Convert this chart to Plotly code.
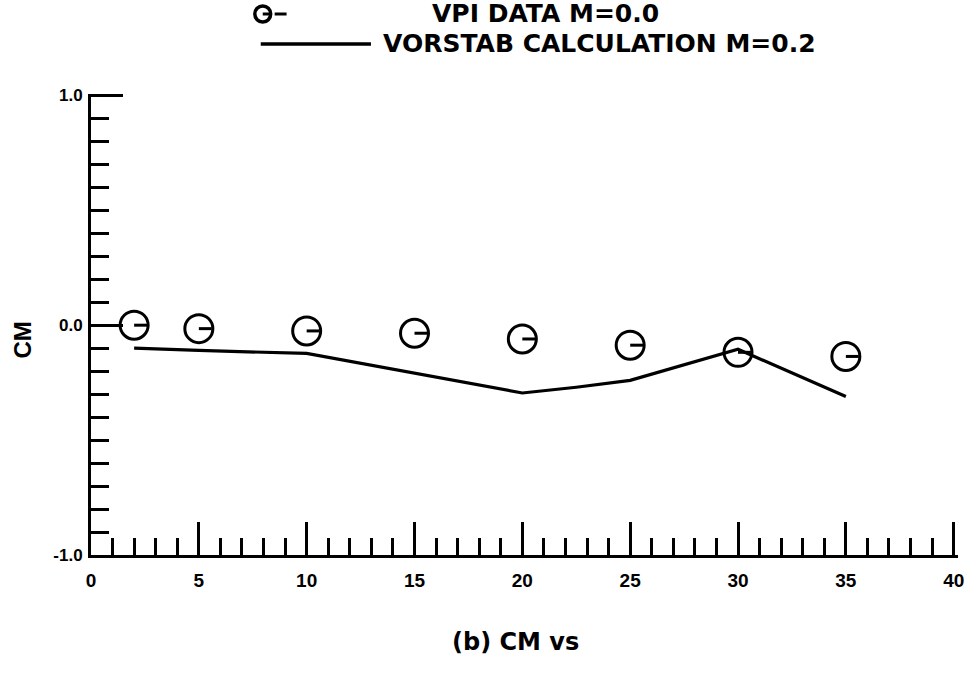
import plotly.graph_objects as go

# Angle of attack (deg) and pitching-moment coefficient
alpha_vpi = [2, 5, 10, 15, 20, 25, 30, 35]
cm_vpi = [0.0, -0.015, -0.025, -0.035, -0.06, -0.087, -0.118, -0.136]

alpha_vorstab = [2, 5, 10, 15, 20, 22.5, 25, 30, 35]
cm_vorstab = [-0.10, -0.11, -0.123, -0.208, -0.295, -0.27, -0.24, -0.105, -0.31]

x_ticks = [0, 5, 10, 15, 20, 25, 30, 35, 40]
x_minor_ticks = [v for v in range(0, 41) if v % 5]
y_ticks = [-1.0, 0.0, 1.0]
y_tick_text = ["-1.0", "0.0", "1.0"]
y_minor_ticks = [k / 10 for k in range(-9, 10) if k != 0]

W, H = 975, 674
x_range = [0, 40.2]
y_range = [-1, 1.006]
L, T, B = 91, 94, 119
px_per_unit = 869 / 40
plot_w = px_per_unit * (x_range[1] - x_range[0])
R = W - L - plot_w
plot_h = H - T - B


def paper_x(px):
    return (px - L) / plot_w


def paper_y(py):
    return (H - B - py) / plot_h


marker_size = 28
half_bar = (marker_size / 2 - 1) / px_per_unit

fig = go.Figure()

# VORSTAB calculation line
fig.add_trace(go.Scatter(
    x=alpha_vorstab, y=cm_vorstab, mode="lines",
    line=dict(color="black", width=3.2),
    showlegend=False, hoverinfo="skip",
))

# VPI data: open circles with a bar from centre to the right edge
bar_x, bar_y = [], []
for a, c in zip(alpha_vpi, cm_vpi):
    bar_x += [a, a + half_bar, None]
    bar_y += [c, c, None]
fig.add_trace(go.Scatter(
    x=bar_x, y=bar_y, mode="lines",
    line=dict(color="black", width=3),
    showlegend=False, hoverinfo="skip",
))
fig.add_trace(go.Scatter(
    x=alpha_vpi, y=cm_vpi, mode="markers",
    marker=dict(symbol="circle-open", size=marker_size, color="black",
                line=dict(color="black", width=3)),
    showlegend=False,
))

label_font = dict(family="DejaVu Sans", size=25, color="black", weight="bold")

# Legend keys and labels
row1, row2 = 14, 44
shapes = [
    dict(type="circle", xref="paper", yref="paper",
         x0=paper_x(256), x1=paper_x(272), y0=paper_y(row1 - 8), y1=paper_y(row1 + 8),
         line=dict(color="black", width=3.5)),
    dict(type="line", xref="paper", yref="paper",
         x0=paper_x(264), x1=paper_x(272), y0=paper_y(row1), y1=paper_y(row1),
         line=dict(color="black", width=3)),
    dict(type="line", xref="paper", yref="paper",
         x0=paper_x(276), x1=paper_x(288), y0=paper_y(row1), y1=paper_y(row1),
         line=dict(color="black", width=3)),
    dict(type="line", xref="paper", yref="paper",
         x0=paper_x(262), x1=paper_x(373), y0=paper_y(row2), y1=paper_y(row2),
         line=dict(color="black", width=3.5)),
]

annotations = [
    dict(text="VPI DATA M=0.0", xref="paper", yref="paper",
         x=paper_x(432), y=paper_y(row1), xanchor="left", yanchor="middle",
         showarrow=False, font=label_font),
    dict(text="VORSTAB CALCULATION M=0.2", xref="paper", yref="paper",
         x=paper_x(383), y=paper_y(row2), xanchor="left", yanchor="middle",
         showarrow=False, font=label_font),
    dict(text="(b) CM vs", xref="paper", yref="paper",
         x=paper_x(519), y=paper_y(642), xanchor="center", yanchor="middle",
         showarrow=False,
         font=dict(family="DejaVu Sans", size=24, color="black", weight="bold")),
    dict(text="CM", xref="paper", yref="paper",
         x=paper_x(21), y=paper_y(340), xanchor="center", yanchor="middle",
         textangle=-90, showarrow=False,
         font=dict(family="Liberation Sans", size=24, color="black", weight="bold")),
]

fig.update_layout(
    width=W, height=H,
    margin=dict(l=L, r=R, t=T, b=B),
    paper_bgcolor="white", plot_bgcolor="white",
    shapes=shapes, annotations=annotations,
    showlegend=False,
)

fig.update_xaxes(
    range=x_range, tickmode="array", tickvals=x_ticks,
    ticks="inside", ticklen=33, tickwidth=3, tickcolor="black",
    minor=dict(tickmode="array", tickvals=x_minor_ticks, ticks="inside",
               ticklen=17, tickwidth=2.5, tickcolor="black"),
    showline=True, linecolor="black", linewidth=3,
    showgrid=False, zeroline=False, mirror=False,
    tickfont=dict(family="Liberation Sans", size=19, color="black", weight="bold"),
    ticklabelstandoff=6,
)
fig.update_yaxes(
    range=y_range, tickmode="array", tickvals=y_ticks, ticktext=y_tick_text,
    ticks="inside", ticklen=32, tickwidth=3, tickcolor="black",
    minor=dict(tickmode="array", tickvals=y_minor_ticks, ticks="inside",
               ticklen=18, tickwidth=2.5, tickcolor="black"),
    showline=True, linecolor="black", linewidth=3,
    showgrid=False, zeroline=False, mirror=False,
    tickfont=dict(family="Liberation Sans", size=17, color="black", weight="bold"),
    ticklabelstandoff=2,
)

fig.write_html("out.html")
